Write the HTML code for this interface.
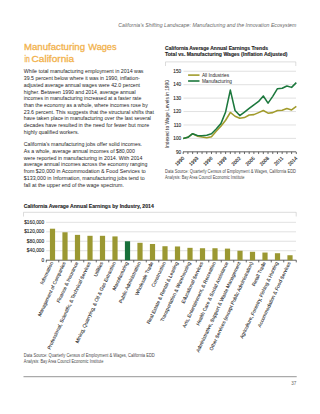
<!DOCTYPE html>
<html><head><meta charset="utf-8"><style>
html,body{margin:0;padding:0;background:#fff;}
body{width:320px;height:414px;overflow:hidden;}
svg{display:block;font-family:"Liberation Sans", sans-serif;}
</style></head><body>
<svg width="320" height="414" viewBox="0 0 320 414">
<text x="118.3" y="26.6" font-size="5.2" fill="#6a6a6a" font-weight="normal" font-style="italic" text-anchor="start" textLength="178" lengthAdjust="spacingAndGlyphs" >California’s Shifting Landscape: Manufacturing and the Innovation Ecosystem</text>
<text x="24" y="50.2" font-size="9.4" fill="#f2b24c" font-weight="normal" font-style="normal" text-anchor="start" textLength="61" lengthAdjust="spacingAndGlyphs" stroke="#f2b24c" stroke-width="0.3">Manufacturing</text>
<text x="88.3" y="50.2" font-size="9.4" fill="#f2b24c" font-weight="normal" font-style="normal" text-anchor="start" textLength="28.3" lengthAdjust="spacingAndGlyphs" stroke="#f2b24c" stroke-width="0.3">Wages</text>
<text x="24.4" y="61.6" font-size="9.4" fill="#f2b24c" font-weight="normal" font-style="normal" text-anchor="start" textLength="5.3" lengthAdjust="spacingAndGlyphs" stroke="#f2b24c" stroke-width="0.3">in</text>
<text x="31.5" y="61.6" font-size="9.4" fill="#f2b24c" font-weight="normal" font-style="normal" text-anchor="start" textLength="42.6" lengthAdjust="spacingAndGlyphs" stroke="#f2b24c" stroke-width="0.3">California</text>
<text x="23.8" y="73.3" font-size="5.9" fill="#262626" font-weight="normal" font-style="normal" text-anchor="start" textLength="119.7" lengthAdjust="spacingAndGlyphs" >While total manufacturing employment in 2014 was</text>
<text x="23.8" y="80.04" font-size="5.9" fill="#262626" font-weight="normal" font-style="normal" text-anchor="start" textLength="116.0" lengthAdjust="spacingAndGlyphs" >39.5 percent below where it was in 1990, inflation-</text>
<text x="23.8" y="86.78" font-size="5.9" fill="#262626" font-weight="normal" font-style="normal" text-anchor="start" textLength="116.2" lengthAdjust="spacingAndGlyphs" >adjusted average annual wages were 42.0 percent</text>
<text x="23.8" y="93.52" font-size="5.9" fill="#262626" font-weight="normal" font-style="normal" text-anchor="start" textLength="111.8" lengthAdjust="spacingAndGlyphs" >higher. Between 1990 and 2014, average annual</text>
<text x="23.8" y="100.26" font-size="5.9" fill="#262626" font-weight="normal" font-style="normal" text-anchor="start" textLength="117.5" lengthAdjust="spacingAndGlyphs" >incomes in manufacturing increased at a faster rate</text>
<text x="23.8" y="107.0" font-size="5.9" fill="#262626" font-weight="normal" font-style="normal" text-anchor="start" textLength="124.0" lengthAdjust="spacingAndGlyphs" >than the economy as a whole, where incomes rose by</text>
<text x="23.8" y="113.74" font-size="5.9" fill="#262626" font-weight="normal" font-style="normal" text-anchor="start" textLength="130.2" lengthAdjust="spacingAndGlyphs" >23.6 percent. This suggests that the structural shifts that</text>
<text x="23.8" y="120.48" font-size="5.9" fill="#262626" font-weight="normal" font-style="normal" text-anchor="start" textLength="127.2" lengthAdjust="spacingAndGlyphs" >have taken place in manufacturing over the last several</text>
<text x="23.8" y="127.22" font-size="5.9" fill="#262626" font-weight="normal" font-style="normal" text-anchor="start" textLength="125.4" lengthAdjust="spacingAndGlyphs" >decades have resulted in the need for fewer but more</text>
<text x="23.8" y="133.96" font-size="5.9" fill="#262626" font-weight="normal" font-style="normal" text-anchor="start" textLength="55.2" lengthAdjust="spacingAndGlyphs" >highly qualified workers.</text>
<text x="23.8" y="146.0" font-size="5.9" fill="#262626" font-weight="normal" font-style="normal" text-anchor="start" textLength="118.2" lengthAdjust="spacingAndGlyphs" >California’s manufacturing jobs offer solid incomes.</text>
<text x="23.8" y="152.75" font-size="5.9" fill="#262626" font-weight="normal" font-style="normal" text-anchor="start" textLength="111.1" lengthAdjust="spacingAndGlyphs" >As a whole, average annual incomes of $80,000</text>
<text x="23.8" y="159.5" font-size="5.9" fill="#262626" font-weight="normal" font-style="normal" text-anchor="start" textLength="118.7" lengthAdjust="spacingAndGlyphs" >were reported in manufacturing in 2014. With 2014</text>
<text x="23.8" y="166.25" font-size="5.9" fill="#262626" font-weight="normal" font-style="normal" text-anchor="start" textLength="123.5" lengthAdjust="spacingAndGlyphs" >average annual incomes across the economy ranging</text>
<text x="23.8" y="173.0" font-size="5.9" fill="#262626" font-weight="normal" font-style="normal" text-anchor="start" textLength="122.0" lengthAdjust="spacingAndGlyphs" >from $20,000 in Accommodation &amp; Food Services to</text>
<text x="23.8" y="179.75" font-size="5.9" fill="#262626" font-weight="normal" font-style="normal" text-anchor="start" textLength="120.9" lengthAdjust="spacingAndGlyphs" >$133,000 in Information, manufacturing jobs tend to</text>
<text x="23.8" y="186.5" font-size="5.9" fill="#262626" font-weight="normal" font-style="normal" text-anchor="start" textLength="100.1" lengthAdjust="spacingAndGlyphs" >fall at the upper end of the wage spectrum.</text>
<text x="165" y="50.3" font-size="5.3" fill="#1e1e1e" font-weight="bold" font-style="normal" text-anchor="start" textLength="103" lengthAdjust="spacingAndGlyphs" stroke="#1e1e1e" stroke-width="0.12">California Average Annual Earnings Trends</text>
<text x="165" y="56.4" font-size="5.3" fill="#1e1e1e" font-weight="bold" font-style="normal" text-anchor="start" textLength="122.5" lengthAdjust="spacingAndGlyphs" stroke="#1e1e1e" stroke-width="0.12">Total vs. Manufacturing Wages (Inflation Adjusted)</text>
<path d="M165.5 66 V61.9 H295.8 V66" fill="none" stroke="#c4c4c4" stroke-width="0.6"/>
<line x1="183.5" x2="296" y1="138.40" y2="138.40" stroke="#d0d0d0" stroke-width="0.65"/>
<text x="181.2" y="140.1" font-size="4.7" fill="#262626" font-weight="normal" font-style="normal" text-anchor="end" stroke="#262626" stroke-width="0.1">100</text>
<line x1="183.5" x2="296" y1="124.97" y2="124.97" stroke="#d0d0d0" stroke-width="0.65"/>
<text x="181.2" y="126.67" font-size="4.7" fill="#262626" font-weight="normal" font-style="normal" text-anchor="end" stroke="#262626" stroke-width="0.1">110</text>
<line x1="183.5" x2="296" y1="111.54" y2="111.54" stroke="#d0d0d0" stroke-width="0.65"/>
<text x="181.2" y="113.24" font-size="4.7" fill="#262626" font-weight="normal" font-style="normal" text-anchor="end" stroke="#262626" stroke-width="0.1">120</text>
<line x1="183.5" x2="296" y1="98.11" y2="98.11" stroke="#d0d0d0" stroke-width="0.65"/>
<text x="181.2" y="99.81" font-size="4.7" fill="#262626" font-weight="normal" font-style="normal" text-anchor="end" stroke="#262626" stroke-width="0.1">130</text>
<line x1="183.5" x2="296" y1="84.68" y2="84.68" stroke="#d0d0d0" stroke-width="0.65"/>
<text x="181.2" y="86.38" font-size="4.7" fill="#262626" font-weight="normal" font-style="normal" text-anchor="end" stroke="#262626" stroke-width="0.1">140</text>
<line x1="183.5" x2="296" y1="71.25" y2="71.25" stroke="#d0d0d0" stroke-width="0.65"/>
<text x="181.2" y="72.95" font-size="4.7" fill="#262626" font-weight="normal" font-style="normal" text-anchor="end" stroke="#262626" stroke-width="0.1">150</text>
<text x="181.2" y="153.53" font-size="4.7" fill="#262626" font-weight="normal" font-style="normal" text-anchor="end" stroke="#262626" stroke-width="0.1">90</text>
<line x1="183" x2="296" y1="151.83" y2="151.83" stroke="#444" stroke-width="0.85"/>
<path d="M183.20 151.83v2.2M187.91 151.83v2.2M192.63 151.83v2.2M197.34 151.83v2.2M202.05 151.83v2.2M206.76 151.83v2.2M211.48 151.83v2.2M216.19 151.83v2.2M220.90 151.83v2.2M225.62 151.83v2.2M230.33 151.83v2.2M235.04 151.83v2.2M239.76 151.83v2.2M244.47 151.83v2.2M249.18 151.83v2.2M253.89 151.83v2.2M258.61 151.83v2.2M263.32 151.83v2.2M268.03 151.83v2.2M272.75 151.83v2.2M277.46 151.83v2.2M282.17 151.83v2.2M286.89 151.83v2.2M291.60 151.83v2.2M296.31 151.83v2.2" stroke="#444" stroke-width="0.8"/>
<text transform="translate(184.60,158.63) rotate(-45)" font-size="4.9" fill="#262626" stroke="#262626" stroke-width="0.12" text-anchor="end">1990</text>
<text transform="translate(198.74,158.63) rotate(-45)" font-size="4.9" fill="#262626" stroke="#262626" stroke-width="0.12" text-anchor="end">1993</text>
<text transform="translate(212.88,158.63) rotate(-45)" font-size="4.9" fill="#262626" stroke="#262626" stroke-width="0.12" text-anchor="end">1996</text>
<text transform="translate(227.02,158.63) rotate(-45)" font-size="4.9" fill="#262626" stroke="#262626" stroke-width="0.12" text-anchor="end">1999</text>
<text transform="translate(241.16,158.63) rotate(-45)" font-size="4.9" fill="#262626" stroke="#262626" stroke-width="0.12" text-anchor="end">2002</text>
<text transform="translate(255.29,158.63) rotate(-45)" font-size="4.9" fill="#262626" stroke="#262626" stroke-width="0.12" text-anchor="end">2005</text>
<text transform="translate(269.43,158.63) rotate(-45)" font-size="4.9" fill="#262626" stroke="#262626" stroke-width="0.12" text-anchor="end">2008</text>
<text transform="translate(283.57,158.63) rotate(-45)" font-size="4.9" fill="#262626" stroke="#262626" stroke-width="0.12" text-anchor="end">2011</text>
<text transform="translate(297.71,158.63) rotate(-45)" font-size="4.9" fill="#262626" stroke="#262626" stroke-width="0.12" text-anchor="end">2014</text>
<text transform="translate(168.5,114.2) rotate(-90)" font-size="5.0" fill="#262626" text-anchor="middle" textLength="68" lengthAdjust="spacingAndGlyphs">Indexed to Wage Levels in 1990</text>
<polyline points="183.20,138.40 187.91,137.33 192.63,133.70 197.34,136.12 202.05,137.06 206.76,137.73 211.48,136.65 216.19,131.28 220.90,126.31 225.62,120.27 230.33,112.48 235.04,116.24 239.76,118.26 244.47,117.58 249.18,115.03 253.89,114.63 258.61,112.61 263.32,110.47 268.03,113.15 272.75,112.61 277.46,110.47 282.17,110.20 286.89,108.45 291.60,109.93 296.31,106.44" fill="none" stroke="#a19b2c" stroke-width="1.55" stroke-linejoin="round"/>
<polyline points="183.20,138.40 187.91,137.33 192.63,133.70 197.34,135.45 202.05,135.85 206.76,135.18 211.48,133.70 216.19,129.00 220.90,123.63 225.62,111.94 230.33,90.05 235.04,110.47 239.76,115.57 244.47,112.21 249.18,108.45 253.89,104.83 258.61,101.47 263.32,95.96 268.03,103.08 272.75,96.36 277.46,88.71 282.17,88.31 286.89,86.02 291.60,87.37 296.31,82.67" fill="none" stroke="#1c783d" stroke-width="1.55" stroke-linejoin="round"/>
<line x1="188.1" x2="199.5" y1="75.1" y2="75.1" stroke="#a19b2c" stroke-width="1.6"/>
<line x1="188.1" x2="199.5" y1="81.0" y2="81.0" stroke="#1c783d" stroke-width="1.6"/>
<text x="201.9" y="76.8" font-size="4.75" fill="#262626" font-weight="normal" font-style="normal" text-anchor="start" >All Industries</text>
<text x="201.9" y="82.6" font-size="4.75" fill="#262626" font-weight="normal" font-style="normal" text-anchor="start" >Manufacturing</text>
<text x="165" y="173.1" font-size="4.9" fill="#4a4a4a" font-weight="normal" font-style="normal" text-anchor="start" textLength="131" lengthAdjust="spacingAndGlyphs" >Data Source: Quarterly Census of Employment &amp; Wages, California EDD</text>
<text x="165" y="178.7" font-size="4.9" fill="#4a4a4a" font-weight="normal" font-style="normal" text-anchor="start" textLength="79.5" lengthAdjust="spacingAndGlyphs" >Analysis: Bay Area Council Economic Institute</text>
<text x="23.8" y="208" font-size="5.3" fill="#1e1e1e" font-weight="bold" font-style="normal" text-anchor="start" textLength="130" lengthAdjust="spacingAndGlyphs" stroke="#1e1e1e" stroke-width="0.12">California Average Annual Earnings by Industry, 2014</text>
<path d="M23.5 216.5 V212.3 H296.2 V216.5" fill="none" stroke="#c4c4c4" stroke-width="0.6"/>
<line x1="46.2" x2="296" y1="222.32" y2="222.32" stroke="#d0d0d0" stroke-width="0.65"/>
<text x="44.2" y="224.02" font-size="4.8" fill="#262626" font-weight="normal" font-style="normal" text-anchor="end" stroke="#262626" stroke-width="0.1">$160,000</text>
<line x1="46.2" x2="296" y1="231.79" y2="231.79" stroke="#d0d0d0" stroke-width="0.65"/>
<text x="44.2" y="233.49" font-size="4.8" fill="#262626" font-weight="normal" font-style="normal" text-anchor="end" stroke="#262626" stroke-width="0.1">$120,000</text>
<line x1="46.2" x2="296" y1="241.26" y2="241.26" stroke="#d0d0d0" stroke-width="0.65"/>
<text x="44.2" y="242.96" font-size="4.8" fill="#262626" font-weight="normal" font-style="normal" text-anchor="end" stroke="#262626" stroke-width="0.1">$80,000</text>
<line x1="46.2" x2="296" y1="250.73" y2="250.73" stroke="#d0d0d0" stroke-width="0.65"/>
<text x="44.2" y="252.43" font-size="4.8" fill="#262626" font-weight="normal" font-style="normal" text-anchor="end" stroke="#262626" stroke-width="0.1">$40,000</text>
<text x="44.2" y="261.9" font-size="4.8" fill="#262626" font-weight="normal" font-style="normal" text-anchor="end" stroke="#262626" stroke-width="0.1">0</text>
<line x1="46" x2="296.3" y1="260.20" y2="260.20" stroke="#444" stroke-width="0.85"/>
<path d="M46.25 260.20v2.2M58.75 260.20v2.2M71.25 260.20v2.2M83.75 260.20v2.2M96.25 260.20v2.2M108.75 260.20v2.2M121.25 260.20v2.2M133.75 260.20v2.2M146.25 260.20v2.2M158.75 260.20v2.2M171.25 260.20v2.2M183.75 260.20v2.2M196.25 260.20v2.2M208.75 260.20v2.2M221.25 260.20v2.2M233.75 260.20v2.2M246.25 260.20v2.2M258.75 260.20v2.2M271.25 260.20v2.2M283.75 260.20v2.2M296.25 260.20v2.2" stroke="#444" stroke-width="0.8"/>
<rect x="49.90" y="228.71" width="5.2" height="31.49" fill="#9b9832"/>
<text transform="translate(53.30,262.80) rotate(-65)" font-size="4.85" fill="#262626" stroke="#262626" stroke-width="0.08" text-anchor="end">Information</text>
<rect x="62.40" y="232.26" width="5.2" height="27.94" fill="#9b9832"/>
<text transform="translate(65.80,262.80) rotate(-65)" font-size="4.85" fill="#262626" stroke="#262626" stroke-width="0.08" text-anchor="end">Management of Companies</text>
<rect x="74.90" y="234.87" width="5.2" height="25.33" fill="#9b9832"/>
<text transform="translate(78.30,262.80) rotate(-65)" font-size="4.85" fill="#262626" stroke="#262626" stroke-width="0.08" text-anchor="end">Finance &amp; Insurance</text>
<rect x="87.40" y="235.81" width="5.2" height="24.39" fill="#9b9832"/>
<text transform="translate(90.80,262.80) rotate(-65)" font-size="4.85" fill="#262626" stroke="#262626" stroke-width="0.08" text-anchor="end">Professional, Scientific, &amp; Technical Services</text>
<rect x="99.90" y="235.81" width="5.2" height="24.39" fill="#9b9832"/>
<text transform="translate(103.30,262.80) rotate(-65)" font-size="4.85" fill="#262626" stroke="#262626" stroke-width="0.08" text-anchor="end">Utilities</text>
<rect x="112.40" y="236.41" width="5.2" height="23.79" fill="#9b9832"/>
<text transform="translate(115.80,262.80) rotate(-65)" font-size="4.85" fill="#262626" stroke="#262626" stroke-width="0.08" text-anchor="end">Mining, Quarrying, &amp; Oil &amp; Gas Extraction</text>
<rect x="124.90" y="241.26" width="5.2" height="18.94" fill="#18703a"/>
<text transform="translate(128.30,262.80) rotate(-65)" font-size="4.85" fill="#262626" stroke="#262626" stroke-width="0.08" text-anchor="end">Manufacturing</text>
<rect x="137.40" y="242.80" width="5.2" height="17.40" fill="#9b9832"/>
<text transform="translate(140.80,262.80) rotate(-65)" font-size="4.85" fill="#262626" stroke="#262626" stroke-width="0.08" text-anchor="end">Public Administration</text>
<rect x="149.90" y="243.98" width="5.2" height="16.22" fill="#9b9832"/>
<text transform="translate(153.30,262.80) rotate(-65)" font-size="4.85" fill="#262626" stroke="#262626" stroke-width="0.08" text-anchor="end">Wholesale Trade</text>
<rect x="162.40" y="246.23" width="5.2" height="13.97" fill="#9b9832"/>
<text transform="translate(165.80,262.80) rotate(-65)" font-size="4.85" fill="#262626" stroke="#262626" stroke-width="0.08" text-anchor="end">Construction</text>
<rect x="174.90" y="246.47" width="5.2" height="13.73" fill="#9b9832"/>
<text transform="translate(178.30,262.80) rotate(-65)" font-size="4.85" fill="#262626" stroke="#262626" stroke-width="0.08" text-anchor="end">Real Estate &amp; Rental &amp; Leasing</text>
<rect x="187.40" y="247.84" width="5.2" height="12.36" fill="#9b9832"/>
<text transform="translate(190.80,262.80) rotate(-65)" font-size="4.85" fill="#262626" stroke="#262626" stroke-width="0.08" text-anchor="end">Transportation &amp; Warehousing</text>
<rect x="199.90" y="248.24" width="5.2" height="11.96" fill="#9b9832"/>
<text transform="translate(203.30,262.80) rotate(-65)" font-size="4.85" fill="#262626" stroke="#262626" stroke-width="0.08" text-anchor="end">Educational Services</text>
<rect x="212.40" y="248.24" width="5.2" height="11.96" fill="#9b9832"/>
<text transform="translate(215.80,262.80) rotate(-65)" font-size="4.85" fill="#262626" stroke="#262626" stroke-width="0.08" text-anchor="end">Arts, Entertainment, &amp; Recreation</text>
<rect x="224.90" y="248.60" width="5.2" height="11.60" fill="#9b9832"/>
<text transform="translate(228.30,262.80) rotate(-65)" font-size="4.85" fill="#262626" stroke="#262626" stroke-width="0.08" text-anchor="end">Health Care &amp; Social Assistance</text>
<rect x="237.40" y="250.73" width="5.2" height="9.47" fill="#9b9832"/>
<text transform="translate(240.80,262.80) rotate(-65)" font-size="4.85" fill="#262626" stroke="#262626" stroke-width="0.08" text-anchor="end">Administrative, Support &amp; Waste Management</text>
<rect x="249.90" y="251.80" width="5.2" height="8.40" fill="#9b9832"/>
<text transform="translate(253.30,262.80) rotate(-65)" font-size="4.85" fill="#262626" stroke="#262626" stroke-width="0.08" text-anchor="end">Other Services (except Public Administration)</text>
<rect x="262.40" y="252.55" width="5.2" height="7.65" fill="#9b9832"/>
<text transform="translate(265.80,262.80) rotate(-65)" font-size="4.85" fill="#262626" stroke="#262626" stroke-width="0.08" text-anchor="end">Retail Trade</text>
<rect x="274.90" y="253.22" width="5.2" height="6.98" fill="#9b9832"/>
<text transform="translate(278.30,262.80) rotate(-65)" font-size="4.85" fill="#262626" stroke="#262626" stroke-width="0.08" text-anchor="end">Agriculture, Forestry, Fishing &amp; Hunting</text>
<rect x="287.40" y="255.23" width="5.2" height="4.97" fill="#9b9832"/>
<text transform="translate(290.80,262.80) rotate(-65)" font-size="4.85" fill="#262626" stroke="#262626" stroke-width="0.08" text-anchor="end">Accommodation &amp; Food Services</text>
<text x="23.8" y="357.0" font-size="4.9" fill="#4a4a4a" font-weight="normal" font-style="normal" text-anchor="start" textLength="131" lengthAdjust="spacingAndGlyphs" >Data Source: Quarterly Census of Employment &amp; Wages, California EDD</text>
<text x="23.8" y="362.6" font-size="4.9" fill="#4a4a4a" font-weight="normal" font-style="normal" text-anchor="start" textLength="79.5" lengthAdjust="spacingAndGlyphs" >Analysis: Bay Area Council Economic Institute</text>
<line x1="23.5" x2="296.7" y1="376.6" y2="376.6" stroke="#aaaaaa" stroke-width="1.1"/>
<text x="296.3" y="384.6" font-size="4.6" fill="#666" font-weight="normal" font-style="normal" text-anchor="end" >37</text>
</svg>
</body></html>
